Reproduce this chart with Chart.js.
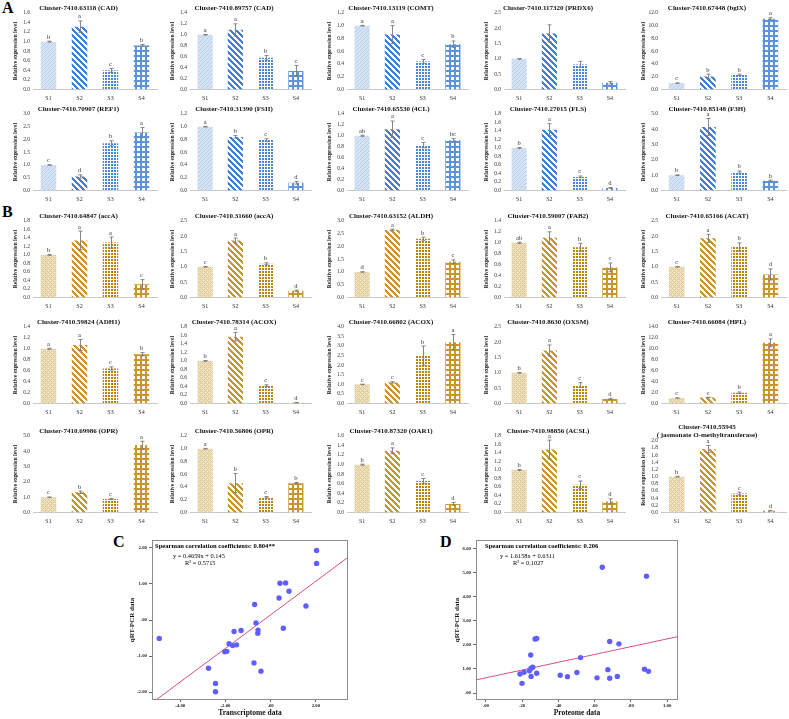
<!DOCTYPE html>
<html><head><meta charset="utf-8">
<script src="https://cdn.jsdelivr.net/npm/chart.js@4.4.1/dist/chart.umd.min.js"></script>
<style>
html,body{margin:0;padding:0;background:#fff;}
#root{position:relative;width:789px;height:719px;overflow:hidden;background:#fff;}
.pl{position:absolute;font-family:"Liberation Serif","Times New Roman",serif;font-weight:bold;font-size:16px;color:#000;line-height:16px;}
.box{position:absolute;}
</style></head>
<body><div id="root">
<div class="pl" style="left:2px;top:0px">A</div>
<div class="pl" style="left:2px;top:204px">B</div>
<div class="pl" style="left:113px;top:534px">C</div>
<div class="pl" style="left:440px;top:534px">D</div>
</div>
<script>
// ---------------- DATA ----------------
const SAMPLES = ['S1','S2','S3','S4'];
const geneTitles = [
 'Cluster-7410.63118 (CAD)','Cluster-7410.89757 (CAD)','Cluster-7410.13119 (COMT)','Cluster-7410.117320 (PRDX6)','Cluster-7410.67448 (bglX)',
 'Cluster-7410.70907 (REF1)','Cluster-7410.31390 (FSII)','Cluster-7410.65530 (4CL)','Cluster-7410.27015 (FLS)','Cluster-7410.85148 (F3H)',
 'Cluster-7410.64847 (accA)','Cluster-7410.31660 (accA)','Cluster-7410.63152 (ALDH)','Cluster-7410.59007 (FAB2)','Cluster-7410.65166 (ACAT)',
 'Cluster-7410.59824 (ADH1)','Cluster-7410.78314 (ACOX)','Cluster-7410.66802 (ACOX)','Cluster-7410.8630 (OXSM)','Cluster-7410.66084 (HPL)',
 'Cluster-7410.69986 (OPR)','Cluster-7410.56806 (OPR)','Cluster-7410.87320 (OAR1)','Cluster-7410.98856 (ACSL)',
 ['Cluster-7410.55945','( jasmonate O-methyltransferase)']
];
const expressionValues = [
 [1.00,1.31,0.40,0.92],[1.00,1.09,0.58,0.34],[1.00,0.86,0.44,0.71],[1.00,1.83,0.82,0.22],[1.00,2.05,2.30,11.10],
 [1.00,0.55,1.85,2.27],[1.00,0.84,0.79,0.12],[1.00,1.12,0.83,0.92],[1.00,1.43,0.32,0.06],[1.00,4.15,1.20,0.63],
 [1.00,1.34,1.29,0.31],[1.00,1.86,1.10,0.22],[1.00,2.65,2.30,1.40],[1.00,1.09,0.92,0.55],[1.00,1.93,1.65,0.75],
 [1.00,1.07,0.64,0.90],[1.00,1.57,0.42,0.02],[1.00,1.10,2.50,3.20],[1.00,1.73,0.60,0.15],[1.00,1.10,1.95,11.10],
 [1.00,1.32,0.88,4.40],[1.00,0.46,0.24,0.46],[1.00,1.29,0.66,0.18],[1.00,1.48,0.65,0.26],[1.00,1.77,0.53,0.05]
];
const expressionErrors = [
 [0.01,0.12,0.04,0.02],[0.005,0.11,0.04,0.10],[0.005,0.14,0.03,0.05],[0.01,0.28,0.10,0.04],[0.02,0.35,0.10,0.15],
 [0.01,0.06,0.10,0.20],[0.005,0.02,0.02,0.02],[0.01,0.15,0.05,0.03],[0.01,0.14,0.02,0.01],[0.02,0.55,0.07,0.05],
 [0.01,0.22,0.13,0.11],[0.01,0.08,0.03,0.02],[0.01,0.03,0.06,0.07],[0.01,0.11,0.07,0.08],[0.01,0.13,0.13,0.18],
 [0.01,0.10,0.03,0.03],[0.01,0.10,0.02,0.005],[0.01,0.04,0.50,0.40],[0.01,0.18,0.08,0.02],[0.02,0.05,0.15,0.70],
 [0.01,0.08,0.04,0.25],[0.005,0.15,0.01,0.01],[0.01,0.06,0.05,0.03],[0.01,0.22,0.09,0.06],[0.01,0.10,0.04,0.01]
];
const significanceLetters = [
 ['b','a','c','b'],['a','a','b','c'],['a','a','c','b'],['','','',''],['c','b','b','a'],
 ['c','d','b','a'],['a','b','c','d'],['ab','a','c','bc'],['b','a','c','d'],['b','a','b','b'],
 ['b','a','a','c'],['c','a','b','d'],['d','a','b','c'],['ab','a','b','c'],['c','a','b','d'],
 ['a','a','c','b'],['b','a','c','d'],['c','c','b','a'],['b','a','c','d'],['c','c','b','a'],
 ['c','b','c','a'],['a','b','c','b'],['b','a','c','d'],['b','a','c','d'],['b','a','c','d']
];
const yAxisMax  = [1.6,1.4,1.2,2.5,12, 3.0,1.2,1.4,1.8,5, 1.8,2.5,3.0,1.4,2.5, 1.4,1.8,4.0,2.5,14, 5,1.2,1.6,1.8,2.0];
const yAxisStep = [0.2,0.2,0.2,0.5,2, 0.5,0.2,0.2,0.2,1, 0.2,0.5,0.5,0.2,0.5, 0.2,0.2,0.5,0.5,2, 1,0.2,0.2,0.2,0.2];

// Panel C: transcriptome vs qRT-PCR
const transcriptomeData = [2.03,2.03,0.41,0.66,0.81,0.37,-0.71,1.56,-0.65,0.56,-0.56,-0.57,-1.31,-1.62,-4.93,-1.84,-1.68,-1.51,-2.03,-1.94,-0.74,-0.43,-2.75,-2.44,-2.44];
const qpcrDataC         = [1.93,1.57,1.02,1.03,0.80,0.61,0.43,0.39,-0.08,-0.23,-0.28,-0.37,-0.29,-0.32,-0.51,-0.66,-0.71,-0.69,-0.88,-0.87,-1.19,-1.42,-1.34,-1.76,-1.99];
const ticksCx = [-4,-2,0,2];
const ticksCy = [-2,-1,0,1,2];
const fitC = {slope:0.4659, intercept:0.145};
// Panel D: proteome vs qRT-PCR
const proteomeData = [0.642,0.886,0.271,0.280,0.683,0.734,0.247,0.522,0.258,0.249,0.240,0.210,0.188,0.280,0.249,0.199,0.410,0.450,0.502,0.613,0.673,0.683,0.725,0.875,0.897];
const qpcrDataD    = [5.22,4.85,2.24,2.26,2.14,2.04,1.58,1.47,1.07,1.03,0.92,0.86,0.79,0.82,0.69,0.40,0.74,0.68,0.85,0.63,0.97,0.61,0.69,0.99,0.90];
const ticksDx = [0,0.2,0.4,0.6,0.8,1.0];
const ticksDy = [0,1,2,3,4,5,6];
const fitD = {slope:1.6158, intercept:0.6311};

// ---------------- STYLE ----------------
const SERIF = '"Liberation Serif","Times New Roman",serif';
const root = document.getElementById('root');

function makePattern(size, fn){
  const c = document.createElement('canvas'); c.width = size; c.height = size;
  const g = c.getContext('2d');
  for (let y=0;y<size;y++) for (let x=0;x<size;x++){ g.fillStyle = fn(x,y); g.fillRect(x,y,1,1); }
  return g.createPattern(c,'repeat');
}
const blueFills = [
  makePattern(4,(x,y)=> (x+y)%4===0 ? '#b7cdea' : '#d5e3f4'),
  makePattern(6,(x,y)=> ((x-y+60)%6)<3 ? '#3f7fd4' : '#ffffff'),
  makePattern(3,(x,y)=> (x===2||y===2) ? '#ffffff' : '#4a86d8'),
  makePattern(5,(x,y)=> (x<2||y<2) ? '#5b93dc' : '#ffffff')
];
const goldFills = [
  makePattern(4,(x,y)=> ((x+y)%4===0||(x-y+8)%4===0) ? '#dcc690' : '#efe3c2'),
  makePattern(6,(x,y)=> ((x-y+60)%6)<3 ? '#c8962a' : '#ffffff'),
  makePattern(3,(x,y)=> (x===2||y===2) ? '#ffffff' : '#b8860b'),
  makePattern(5,(x,y)=> (x<2||y<2) ? '#c9952c' : '#ffffff')
];

function addCanvas(left, top, w, h){
  const d = document.createElement('div'); d.className='box';
  d.style.left=left+'px'; d.style.top=top+'px'; d.style.width=w+'px'; d.style.height=h+'px';
  const c = document.createElement('canvas'); c.width=w; c.height=h; c.style.width=w+'px'; c.style.height=h+'px';
  d.appendChild(c); root.appendChild(d); return c;
}

const errorBarPlugin = {
  id:'errbars',
  afterDatasetsDraw(chart, args, opts){
    const ctx = chart.ctx, ys = chart.scales.y, meta = chart.getDatasetMeta(0);
    const vals = chart.data.datasets[0].data;
    meta.data.forEach((bar,i)=>{
      const v = vals[i], e = opts.errors[i];
      const x = Math.round(bar.x)+0.5;
      const yT = ys.getPixelForValue(v+e), yB = ys.getPixelForValue(Math.max(0,v-e));
      ctx.save();
      ctx.strokeStyle='#7a7a7a'; ctx.lineWidth=0.9;
      ctx.beginPath();
      ctx.moveTo(x,yT); ctx.lineTo(x,yB);
      ctx.moveTo(x-2,yT); ctx.lineTo(x+2,yT);
      ctx.moveTo(x-2,yB); ctx.lineTo(x+2,yB);
      ctx.stroke();
      const L = opts.letters[i];
      if (L){
        ctx.fillStyle='#333'; ctx.font='6.5px '+SERIF; ctx.textAlign='center'; ctx.textBaseline='bottom';
        ctx.fillText(L, bar.x, yT-1);
      }
      ctx.restore();
    });
  }
};

const colLeft = [0,157,314,471,628];
const rowTop = [0,101,208,314,423];

geneTitles.forEach((title,k)=>{
  const row = Math.floor(k/5), col = k%5;
  const w = col===4 ? 161 : (col===0 ? 160 : 157);
  const c = addCanvas(colLeft[col], rowTop[row], w, 105);
  const fills = k<10 ? blueFills : goldFills;
  const twoLine = Array.isArray(title);
  new Chart(c.getContext('2d'), {
    type:'bar',
    data:{ labels:SAMPLES, datasets:[{ data:expressionValues[k], backgroundColor:fills, borderWidth:0,
      barPercentage:0.5, categoryPercentage:1.0 }]},
    options:{
      responsive:false, animation:false, devicePixelRatio:1,
      layout:{ padding:{ top: twoLine?0:3.5, right:3, bottom:1.5, left:0 } },
      plugins:{
        legend:{display:false}, tooltip:{enabled:false},
        title:{ display:true, text:title, color:'#111', font:{family:SERIF, size:7, weight:'bold', lineHeight:1.2}, padding:{top:0,bottom:1} },
        errbars:{ errors:expressionErrors[k], letters:significanceLetters[k] }
      },
      scales:{
        x:{ grid:{display:false, drawTicks:false}, border:{display:true, color:'#c8c8c8', width:1},
            ticks:{ font:{family:SERIF,size:6}, color:'#333', padding:5, autoSkip:false, maxRotation:0 },
            afterFit:s=>{ s.height=14; } },
        y:{ min:0, max:yAxisMax[k], grid:{display:false, drawTicks:false}, border:{display:false},
            ticks:{ stepSize:yAxisStep[k], autoSkip:false, font:{family:SERIF,size:5.5}, color:'#333', padding:3,
                    callback:v=>Number(v).toFixed(1) },
            title:{ display:true, text:'Relative expression level', color:'#222',
                    font:{family:SERIF,size:5.6,weight:'bold'}, padding:{top:12,bottom:0} },
            afterFit:s=>{ s.width=33; } }
      }
    },
    plugins:[errorBarPlugin]
  });
});

// ---------------- scatter panels ----------------
function fmtSpss(v){ let s = Number(v).toFixed(2); return s.replace(/^(-?)0\./,'$1.'); }
const framePlugin = {
  id:'frame',
  beforeDatasetsDraw(chart){
    const a = chart.chartArea, ctx = chart.ctx;
    ctx.save(); ctx.strokeStyle='#8c8c8c'; ctx.lineWidth=1;
    ctx.strokeRect(Math.round(a.left)+0.5, Math.round(a.top)+0.5, Math.round(a.right-a.left)-1, Math.round(a.bottom-a.top)-1);
    ctx.restore();
  },
  afterDraw(chart, args, opts){
    const a = chart.chartArea, ctx = chart.ctx;
    ctx.save(); ctx.fillStyle='#000'; ctx.textBaseline='middle'; ctx.textAlign='left';
    (opts.notes||[]).forEach(n=>{ ctx.font = n.font; ctx.fillText(n.text, a.left+n.dx, a.top+n.dy); });
    ctx.restore();
  }
};

function scatterChart(left, top, w, h, axisW, padRight, xs, ys, xmin, xmax, ymin, ymax, xt, yt, fit, xTitle, ytPad, notes){
  const c = addCanvas(left, top, w, h);
  const pts = xs.map((x,i)=>({x, y:ys[i]}));
  const f = x => fit.slope*x + fit.intercept;
  new Chart(c.getContext('2d'), {
    type:'scatter',
    data:{ datasets:[
      { type:'line', data:[{x:xmin,y:f(xmin)},{x:xmax,y:f(xmax)}], borderColor:'#d4508c', borderWidth:1, pointRadius:0, order:1 },
      { data:pts, backgroundColor:'#5f5fff', borderWidth:0, pointRadius:2.7, order:0 }
    ]},
    options:{
      responsive:false, animation:false, devicePixelRatio:1,
      layout:{ padding:{ top:10, right:padRight, bottom:0, left:0 } },
      plugins:{ legend:{display:false}, tooltip:{enabled:false}, frame:{notes} },
      scales:{
        x:{ type:'linear', min:xmin, max:xmax,
            afterBuildTicks:s=>{ s.ticks = xt.map(v=>({value:v})); },
            grid:{ display:true, drawOnChartArea:false, drawTicks:true, tickLength:2, color:'#666' },
            border:{display:false},
            ticks:{ font:{family:SERIF,size:4.8,weight:'bold'}, color:'#222', padding:0.5, maxRotation:0, autoSkip:false, callback:fmtSpss },
            title:{ display:true, text:xTitle, color:'#111', font:{family:SERIF,size:7.5,weight:'bold'}, padding:{top:0,bottom:1} },
            afterFit:s=>{ s.height=19; } },
        y:{ type:'linear', min:ymin, max:ymax,
            afterBuildTicks:s=>{ s.ticks = yt.map(v=>({value:v})); },
            grid:{ display:true, drawOnChartArea:false, drawTicks:true, tickLength:3, color:'#666' },
            border:{display:false},
            ticks:{ font:{family:SERIF,size:4.8,weight:'bold'}, color:'#222', padding:2, autoSkip:false, callback:fmtSpss },
            title:{ display:true, text:'qRT-PCR data', color:'#111', font:{family:SERIF,size:7,weight:'bold'}, padding:{top:ytPad,bottom:0} },
            afterFit:s=>{ s.width=axisW; } }
      }
    },
    plugins:[framePlugin]
  });
}

scatterChart(110, 530, 250, 189, 42, 12, transcriptomeData, qpcrDataC, -5.25, 3.42, -2.22, 2.22, ticksCx, ticksCy, fitC,
  'Transcriptome data', 17.5, [
   {text:'Spearman correlation coefficients: 0.804**', dx:3, dy:6, font:'bold 6.6px '+SERIF},
   {text:'y = 0.4659x + 0.145', dx:21, dy:16, font:'6.4px '+SERIF},
   {text:'R\u00B2 = 0.5715', dx:33, dy:23, font:'6.4px '+SERIF}
  ]);
scatterChart(430, 530, 260, 189, 46, 12, proteomeData, qpcrDataD, -0.055, 1.06, -0.29, 6.35, ticksDx, ticksDy, fitD,
  'Proteome data', 22.5, [
   {text:'Spearman correlation coefficients: 0.206', dx:9, dy:6, font:'bold 6.6px '+SERIF},
   {text:'y = 1.6158x + 0.6311', dx:24, dy:16, font:'6.4px '+SERIF},
   {text:'R\u00B2 = 0.1027', dx:37, dy:23, font:'6.4px '+SERIF}
  ]);
</script>
</body></html>
